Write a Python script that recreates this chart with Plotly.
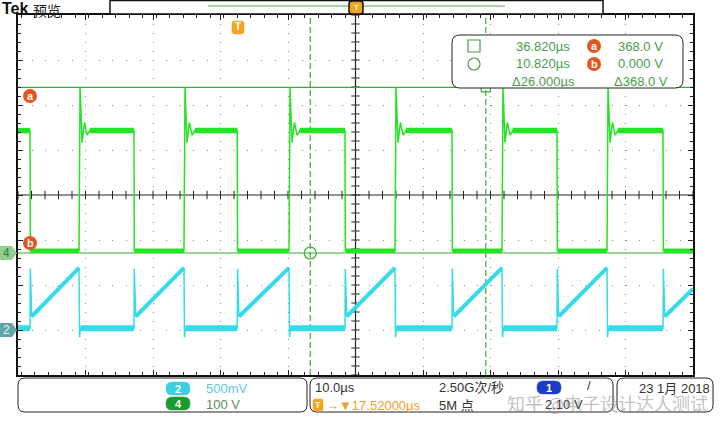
import plotly.graph_objects as go

T_START, T_END = -32.48, 67.52          # µs, relative to trigger (10 µs/div, 10 div)
fall_times = [-30.70, -15.30, 0.0, 15.96, 31.82, 47.37, 63.08]   # ch4 falling edges (µs)
rise_times = [-23.44, -7.89, 7.67, 23.37, 39.22, 54.78]          # ch4 rising edges (µs)

CH4_SCALE, CH4_OFFSET = 100.0, -1.289   # V/div, ground position (div)
CH2_SCALE, CH2_OFFSET = 0.5, -3.0

ch4_high, ch4_low = 272.0, 5.0           # V
ring_dt = [0.0, 0.15, 0.45, 0.80, 1.20, 1.60]          # µs after rising edge
ring_v = [5.0, 368.0, 245.0, 290.0, 262.0, 272.0]      # V

ch2_flat, ch2_spike, ch2_ramp0, ch2_ramp1, ch2_dip = 0.02, 0.68, 0.15, 0.69, -0.08  # V

cursor_t1, cursor_t2 = 10.82, 36.82     # µs
cursor_va, cursor_vb = 368.0, 0.0       # V

# ---------------- geometry helpers ----------------
L, R, T, B = 18, 693, 15, 375
W, H = R - L, B - T
def px(x): return (x - L) / W
def py(y): return (B - y) / H
def d4(v): return CH4_OFFSET + v / CH4_SCALE
def d2(v): return CH2_OFFSET + v / CH2_SCALE

# ---------------- build ch4 waveform ----------------
events = sorted([(t, 'f') for t in fall_times] + [(t, 'r') for t in rise_times])
g_x, g_y = [T_START], [d4(ch4_high)]
hi_x, hi_y, lo_x, lo_y = [], [], [], []
level_start = T_START
for t, kind in events:
    if kind == 'f':
        g_x += [t, t + 0.05]; g_y += [d4(ch4_high), d4(ch4_low)]
        hi_x += [level_start, t, None]; hi_y += [d4(ch4_high), d4(ch4_high), None]
        level_start = t + 0.1
    else:
        for dt, v in zip(ring_dt, ring_v):
            g_x.append(t + dt); g_y.append(d4(v))
        lo_x += [level_start, t, None]; lo_y += [d4(ch4_low), d4(ch4_low), None]
        level_start = t + ring_dt[-1]
g_x.append(T_END); g_y.append(d4(ch4_low))
lo_x += [level_start, T_END, None]; lo_y += [d4(ch4_low), d4(ch4_low), None]

# ---------------- build ch2 waveform ----------------
c_x, c_y = [T_START], [d2(ch2_flat)]
cf_x, cf_y, cr_x, cr_y = [], [], [], []
seg_start = T_START
for t, kind in events:
    if kind == 'f':
        c_x += [t, t + 0.05, t + 0.25]; c_y += [d2(ch2_flat), d2(ch2_spike), d2(ch2_ramp0)]
        cf_x += [seg_start, t, None]; cf_y += [d2(ch2_flat), d2(ch2_flat), None]
        seg_start = t + 0.25
    else:
        c_x += [t, t + 0.08, t + 0.2]; c_y += [d2(ch2_ramp1), d2(ch2_dip), d2(ch2_flat)]
        cr_x += [seg_start, t, None]; cr_y += [d2(ch2_ramp0), d2(ch2_ramp1), None]
        seg_start = t + 0.2
slope = (ch2_ramp1 - ch2_ramp0) / (rise_times[-1] - fall_times[-2])
v_end = ch2_ramp0 + slope * (T_END - seg_start)
c_x.append(T_END); c_y.append(d2(v_end))
cr_x += [seg_start, T_END, None]; cr_y += [d2(ch2_ramp0), d2(v_end), None]

GREEN = "#22e422"
CYAN = "#35dbe8"
CURS = "#3aaa3a"

fig = go.Figure()
# centre cross ticks
cx = [T_START + 2 * k for k in range(51)]
cy = [-4 + 0.2 * k for k in range(41)]
fig.add_trace(go.Scatter(x=cx, y=[0] * len(cx), mode="markers", hoverinfo="skip",
                         marker=dict(symbol="line-ns", size=6, line=dict(width=1, color="#222"))))
fig.add_trace(go.Scatter(x=[T_START + 50] * len(cy), y=cy, mode="markers", hoverinfo="skip",
                         marker=dict(symbol="line-ew", size=6, line=dict(width=1, color="#222"))))

# cursor lines
fig.add_trace(go.Scatter(x=[T_START, T_END], y=[d4(cursor_va)] * 2, mode="lines",
                         line=dict(color=CURS, width=1.2)))
fig.add_trace(go.Scatter(x=[T_START, T_END], y=[d4(cursor_vb)] * 2, mode="lines",
                         line=dict(color=CURS, width=1.2)))
for ct in (cursor_t1, cursor_t2):
    fig.add_trace(go.Scatter(x=[ct, ct], y=[-4, 4], mode="lines",
                             line=dict(color=CURS, width=1.2, dash="6px,3px")))

# waveforms
fig.add_trace(go.Scatter(x=c_x, y=c_y, mode="lines", line=dict(color=CYAN, width=1.5)))
fig.add_trace(go.Scatter(x=cf_x, y=cf_y, mode="lines", line=dict(color=CYAN, width=6)))
fig.add_trace(go.Scatter(x=cr_x, y=cr_y, mode="lines", line=dict(color=CYAN, width=4)))
fig.add_trace(go.Scatter(x=g_x, y=g_y, mode="lines", line=dict(color=GREEN, width=1.5)))
fig.add_trace(go.Scatter(x=hi_x, y=hi_y, mode="lines", line=dict(color=GREEN, width=5.5)))
fig.add_trace(go.Scatter(x=lo_x, y=lo_y, mode="lines", line=dict(color=GREEN, width=4.5)))

# cursor intersection markers
fig.add_trace(go.Scatter(x=[cursor_t1], y=[d4(cursor_vb)], mode="markers",
                         marker=dict(symbol="circle-open", size=12, color=CURS, line=dict(color=CURS, width=1.2))))
fig.add_trace(go.Scatter(x=[cursor_t2], y=[d4(cursor_va)], mode="markers",
                         marker=dict(symbol="square-open", size=9, color=CURS, line=dict(color=CURS, width=1.2))))

# ---------------- decorations ----------------
shapes, ann = [], []

def rrect(x0, y0, x1, y1, r, line="#000", lw=1, fill="rgba(0,0,0,0)", layer="above"):
    rx, ry = r / W, r / H
    X0, X1, Y0, Y1 = px(x0), px(x1), py(y1), py(y0)
    p = (f"M{X0+rx},{Y0} L{X1-rx},{Y0} Q{X1},{Y0} {X1},{Y0+ry} L{X1},{Y1-ry} Q{X1},{Y1} {X1-rx},{Y1} "
         f"L{X0+rx},{Y1} Q{X0},{Y1} {X0},{Y1-ry} L{X0},{Y0+ry} Q{X0},{Y0} {X0+rx},{Y0} Z")
    shapes.append(dict(type="path", path=p, xref="paper", yref="paper",
                       line=dict(color=line, width=lw), fillcolor=fill, layer=layer))

def text(x, y, s, size=13, color="#333", xanchor="left", family="Liberation Sans, Noto Sans CJK SC", **kw):
    ann.append(dict(x=px(x), y=py(y), xref="paper", yref="paper", text=s, showarrow=False,
                    xanchor=xanchor, yanchor="middle", font=dict(size=size, color=color, family=family), **kw))

def circle_badge(x, y, s, color, rad=7, size=11):
    shapes.append(dict(type="circle", xref="paper", yref="paper", x0=px(x - rad), x1=px(x + rad),
                       y0=py(y + rad), y1=py(y - rad), fillcolor=color, line=dict(width=0), layer="above"))
    text(x, y, f"<b>{s}</b>", size=size, color="white", xanchor="center")

def arrow_marker(y, s, color, tcolor):
    X0, X1, X2 = px(0), px(12), px(17)
    Ya, Yb = py(y - 7), py(y + 7)
    p = f"M{X0},{Ya} L{X1},{Ya} L{X2},{py(y)} L{X1},{Yb} L{X0},{Yb} Z"
    shapes.append(dict(type="path", path=p, xref="paper", yref="paper", fillcolor=color,
                       line=dict(width=0), layer="above"))
    text(6, y, s, size=12, color=tcolor, xanchor="center")

# cursor readout box
rrect(452, 35, 683, 88, 8, line="#222", lw=1, fill="white")
CTXT = "#4c9c4c"
text(572, 46, "36.820µs", color=CTXT, xanchor="right")
text(572, 64, "10.820µs", color=CTXT, xanchor="right")
text(577, 81, "Δ26.000µs", color=CTXT, xanchor="right")
text(665, 46, "368.0 V", color=CTXT, xanchor="right")
text(665, 64, "0.000 V", color=CTXT, xanchor="right")
text(670, 81, "Δ368.0 V", color=CTXT, xanchor="right")
shapes.append(dict(type="rect", xref="paper", yref="paper", x0=px(468), x1=px(480), y0=py(52), y1=py(40),
                   line=dict(color=CTXT, width=1.2), layer="above"))
shapes.append(dict(type="circle", xref="paper", yref="paper", x0=px(468), x1=px(480), y0=py(70), y1=py(58),
                   line=dict(color=CTXT, width=1.2), layer="above"))
circle_badge(594, 46, "a", "#e2561e")
circle_badge(594, 64, "b", "#e2561e")

# left markers
circle_badge(30, 96, "a", "#e2561e")
circle_badge(30, 243, "b", "#e2561e")
arrow_marker(253, "4", "#8fcf8f", "#3d7a3d")
arrow_marker(330, "2", "#62a5a8", "#e8f4f4")

# trigger position marker
rrect(232, 21, 244, 34, 3, line="#e89a18", lw=0.5, fill="#f2a51f")
text(238, 27, "<b>T</b>", size=10, color="white", xanchor="center")

# top header
text(0, 8.5, "<b>Tek</b>", size=16, color="#111", family="Liberation Sans")
text(31, 9.5, "预览", size=14, color="#222", family="Noto Sans CJK SC")
shapes.append(dict(type="rect", xref="paper", yref="paper", x0=px(110), x1=px(603), y0=py(14), y1=py(0.5),
                   line=dict(color="#111", width=1.5), fillcolor="white", layer="above"))
shapes.append(dict(type="line", xref="paper", yref="paper", x0=px(208), x1=px(505), y0=py(6), y1=py(6),
                   line=dict(color="#4caf50", width=1.2), layer="above"))
rrect(349, 1, 363, 14, 3, line="#111", lw=1.5, fill="#f2a51f")
text(356, 7, "<b>T</b>", size=8, color="white", xanchor="center")

# bottom boxes
rrect(18, 378, 307, 412, 7, line="#222", lw=1, fill="white")
rrect(310, 378, 613, 412, 7, line="#222", lw=1, fill="white")
rrect(617, 378, 713, 412, 7, line="#222", lw=1, fill="white")

rrect(166, 382, 190, 395, 6, line="#3ccfe0", lw=0.5, fill="#3ccfe0")
text(178, 388.5, "<b>2</b>", size=11, color="white", xanchor="center")
rrect(166, 397, 190, 410, 6, line="#1b9a2e", lw=0.5, fill="#1b9a2e")
text(178, 403.5, "<b>4</b>", size=11, color="white", xanchor="center")
text(204, 388, "500mV", size=13, color="#60c6de")
text(204, 404, "100 V", size=13, color="#5c8f5c")

text(313, 387, "10.0µs", size=13, color="#333")
rrect(313, 399, 323, 411, 2, line="#f2a51f", lw=0.5, fill="#f2a51f")
text(318, 405, "<b>T</b>", size=9, color="white", xanchor="center")
text(324, 405, "→▼17.52000µs", size=13, color="#f0a028")
text(437, 387, "2.50G次/秒", size=13, color="#333")
text(437, 405, "5M 点", size=13, color="#333")
rrect(537, 381, 561, 394, 6, line="#1c3cc8", lw=0.5, fill="#1c3cc8")
text(549, 387.5, "<b>1</b>", size=11, color="white", xanchor="center")
text(585, 386, "/", size=13, color="#333")
text(543, 404, "2.10 V", size=13, color="#333")
text(712, 388, "23 1月 2018", size=13, color="#333", xanchor="right")
text(505, 403, "知乎 @电子设计达人测试", size=18, color="rgba(140,140,140,0.55)",
     family="Noto Sans CJK SC")

fig.update_layout(
    width=720, height=432, margin=dict(l=L, r=720 - R, t=T, b=432 - B),
    paper_bgcolor="white", plot_bgcolor="white", showlegend=False,
    shapes=shapes, annotations=ann,
    xaxis=dict(range=[T_START, T_END], showticklabels=False, tick0=T_START, dtick=10,
               showgrid=True, gridcolor="#8a8a8a", gridwidth=1, griddash="1px,8px",
               ticks="inside", ticklen=5, tickcolor="#222", mirror="ticks",
               minor=dict(dtick=2, ticks="inside", ticklen=3, tickcolor="#222", showgrid=False),
               showline=True, linecolor="#111", linewidth=2, zeroline=False, fixedrange=True),
    yaxis=dict(range=[-4, 4], showticklabels=False, tick0=-4, dtick=1,
               showgrid=True, gridcolor="#8a8a8a", gridwidth=1, griddash="1px,12.5px",
               ticks="inside", ticklen=5, tickcolor="#222", mirror="ticks",
               minor=dict(dtick=0.2, ticks="inside", ticklen=3, tickcolor="#222", showgrid=False),
               showline=True, linecolor="#111", linewidth=2, zeroline=False, fixedrange=True),
)
fig.add_shape(type="line", xref="x", yref="y", x0=T_START, x1=T_END, y0=0, y1=0,
              line=dict(color="#222", width=1.2), layer="below")
fig.add_shape(type="line", xref="x", yref="y", x0=T_START + 50, x1=T_START + 50, y0=-4, y1=4,
              line=dict(color="#222", width=1.2), layer="below")

fig.write_html("out.html", config={"displayModeBar": False},
               post_script="document.body.style.margin='0px';document.body.style.overflow='hidden';")
